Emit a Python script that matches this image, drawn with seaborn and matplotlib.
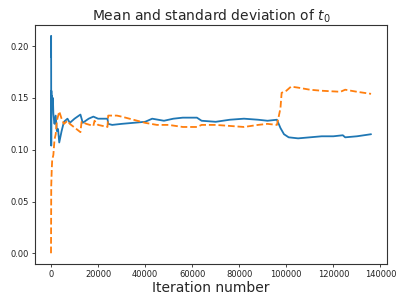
import matplotlib
matplotlib.use("Agg")
import matplotlib.pyplot as plt
import seaborn as sns
import numpy as np

sns.set_style("ticks")
plt.rcParams['font.family'] = ['DejaVu Sans']

# mean of t0 (solid blue)
mean_x = [0, 50, 100, 150, 200, 400, 600, 800, 1000, 1300, 1500, 2000, 2500, 3000, 3500,
          4500, 5500, 7000, 8000, 10000, 12500, 13500, 16000, 18000, 20000, 24000, 24300,
          26000, 30000, 35000, 40000, 43000, 48000, 52000, 56000, 62000, 64000, 70000,
          76000, 82000, 88000, 92000, 96000, 97500, 99000, 101000, 105000, 110000,
          115000, 120000, 124000, 125000, 130000, 136000]
mean_y = [0.190, 0.210, 0.104, 0.157, 0.150, 0.152, 0.140, 0.150, 0.135, 0.128, 0.125, 0.133,
          0.118, 0.120, 0.107, 0.118, 0.127, 0.130, 0.126, 0.130, 0.134, 0.126, 0.130,
          0.132, 0.130, 0.130, 0.125, 0.124, 0.125, 0.126, 0.127, 0.130, 0.128, 0.130,
          0.131, 0.131, 0.128, 0.127, 0.129, 0.130, 0.129, 0.128, 0.129, 0.121, 0.115,
          0.112, 0.111, 0.112, 0.113, 0.113, 0.114, 0.112, 0.113, 0.115]

# standard deviation of t0 (dashed orange)
std_x = [0, 100, 300, 500, 1000, 1500, 2000, 2500, 3500, 4500, 5500, 7000, 8000, 12500,
         13000, 15000, 18000, 18500, 20000, 24000, 24300, 28000, 30000, 35000, 40000,
         45000, 50000, 56000, 62000, 64000, 70000, 76000, 82000, 88000, 92000, 96000,
         97500, 98000, 100000, 102000, 105000, 110000, 115000, 123000, 125000, 130000,
         136000]
std_y = [0.000, 0.065, 0.080, 0.090, 0.095, 0.110, 0.115, 0.128, 0.137, 0.130, 0.125,
         0.128, 0.125, 0.117, 0.127, 0.125, 0.123, 0.128, 0.124, 0.122, 0.133, 0.133,
         0.132, 0.129, 0.126, 0.124, 0.124, 0.122, 0.122, 0.124, 0.124, 0.123, 0.122,
         0.124, 0.125, 0.124, 0.140, 0.155, 0.157, 0.161, 0.160, 0.158, 0.157, 0.156,
         0.158, 0.156, 0.154]

fig = plt.figure(figsize=(4.07, 3.05), dpi=100)
ax = fig.add_axes([0.086, 0.134, 0.865, 0.784])

sns.lineplot(x=mean_x, y=mean_y, ax=ax, color="#1f77b4", linewidth=1.3, sort=False)
sns.lineplot(x=std_x, y=std_y, ax=ax, color="#ff7f0e", linewidth=1.3, linestyle="--", sort=False)

ax.set_ylim(-0.0105, 0.2205)
ax.set_xlim(-6800, 142800)
ax.set_yticks([0.0, 0.05, 0.10, 0.15, 0.20])
ax.set_yticklabels(["0.00", "0.05", "0.10", "0.15", "0.20"])
ax.set_xticks(np.arange(0, 140001, 20000))
ax.tick_params(labelsize=6, length=2.5, width=0.6, pad=2, labelcolor="#222222")
for s in ax.spines.values():
    s.set_linewidth(0.8)
    s.set_color("#333333")

ax.set_title("Mean and standard deviation of $t_0$", fontsize=10, pad=3)
ax.set_xlabel("Iteration number", fontsize=10, labelpad=1)

fig.savefig("out.png", dpi=100)
